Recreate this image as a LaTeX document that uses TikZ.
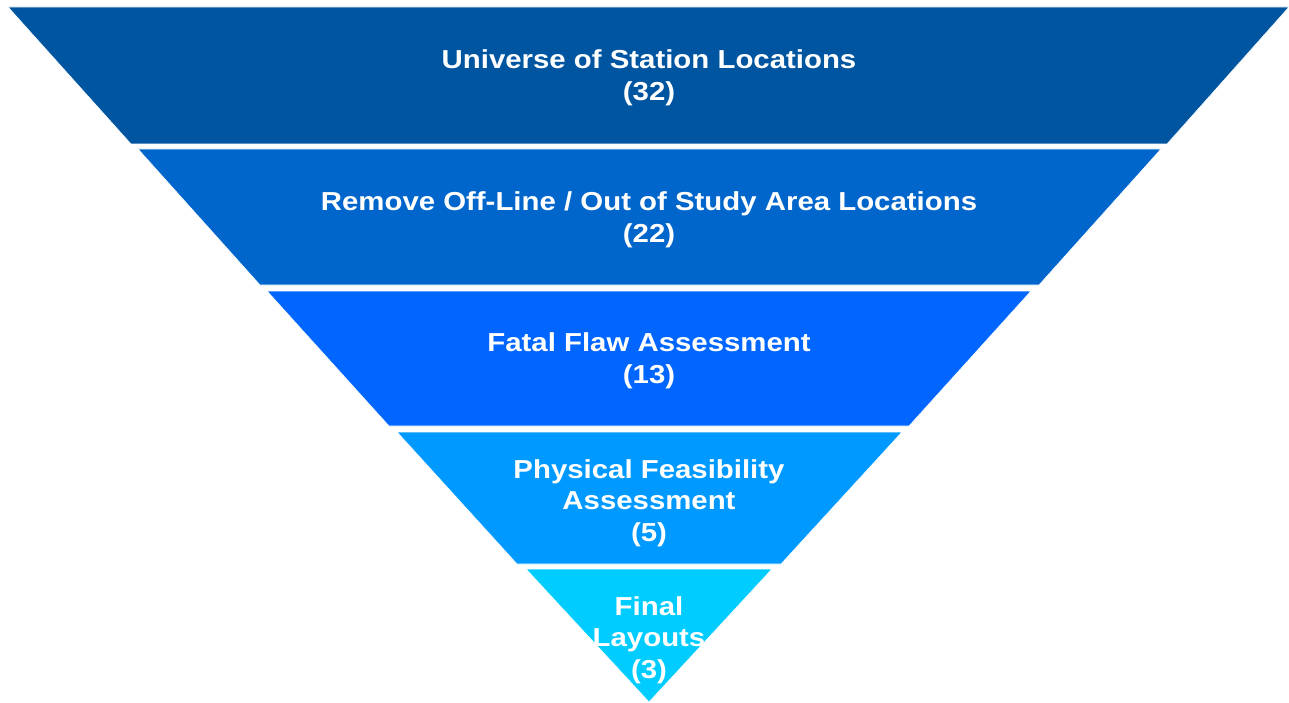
\documentclass[tikz,border=0pt]{standalone}
\usepackage{fontspec}
\setmainfont{Liberation Sans}[FakeStretch=1.13]
\usetikzlibrary{positioning}
\definecolor{band_one}{HTML}{0055A0}
\definecolor{band_two}{HTML}{0066CC}
\definecolor{band_three}{HTML}{0066FF}
\definecolor{band_four}{HTML}{0099FF}
\definecolor{band_five}{HTML}{00CCFF}
\tikzset{
	band/.style = {
		draw=white,
		line width=0.6pt,
		line join=miter
	},
	band_label/.style = {
		align=center,
		inner sep=0pt,
		text centered,
		white,
		font=\fontsize{26}{31.5}\selectfont\bfseries
	},
}
\begin{document}
\begin{tikzpicture}[x=1pt,y=-1pt]
\useasboundingbox (0,0) rectangle (1289,703);
% funnel bands
\filldraw [band, fill=band_one] (8,7) -- (1289,7) -- (1167,144) -- (131,144) -- cycle;
\filldraw [band, fill=band_two] (138,149) -- (1161,149) -- (1039,285) -- (260,285) -- cycle;
\filldraw [band, fill=band_three] (267,291) -- (1031,291) -- (909,426) -- (389,426) -- cycle;
\filldraw [band, fill=band_four] (397,432) -- (902,432) -- (781,564) -- (517,564) -- cycle;
\filldraw [band, fill=band_five] (526,569) -- (772,569) -- (649,702) -- cycle;
% labels
\node [band_label] (universe) at (649,78) {Universe of Station Locations\\(32)};
\node [band_label] (offline) at (649,220) {Remove Off-Line / Out of Study Area Locations\\(22)};
\node [band_label] (fatal) at (649,361) {Fatal Flaw Assessment\\(13)};
\node [band_label] (physical) at (649,503) {Physical Feasibility\\Assessment\\(5)};
\node [band_label] (final) at (649,640) {Final\\Layouts\\(3)};
\end{tikzpicture}
\end{document}
